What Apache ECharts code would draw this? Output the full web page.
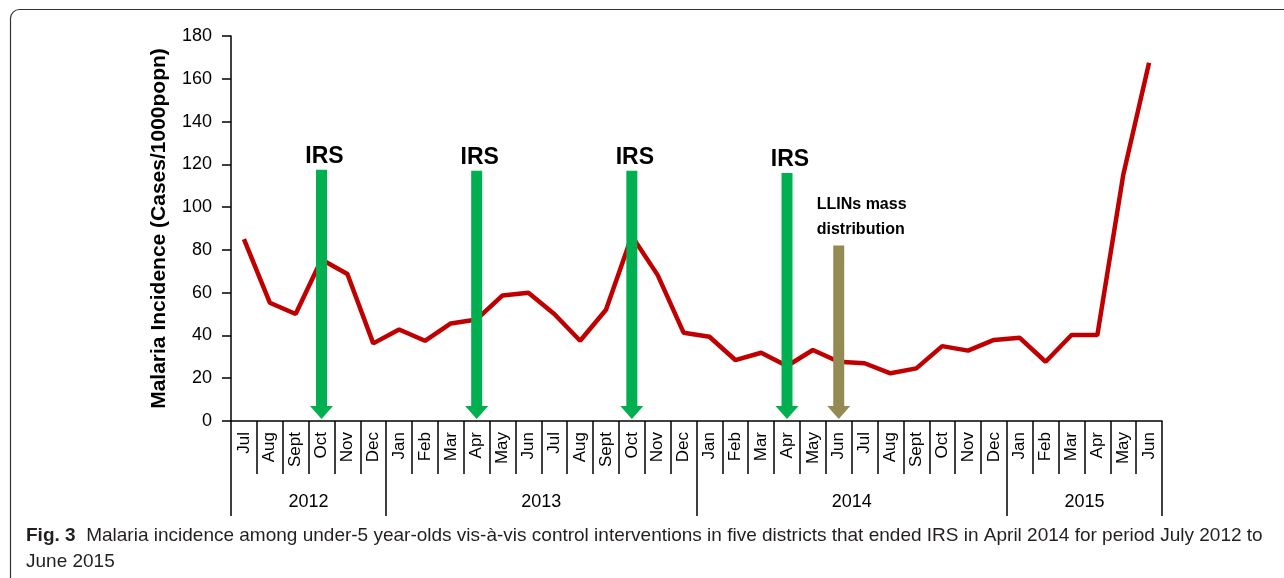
<!DOCTYPE html>
<html>
<head>
<meta charset="utf-8">
<script src="https://cdn.jsdelivr.net/npm/echarts@6/dist/echarts.min.js"></script>
<style>
html,body{margin:0;padding:0;background:#fff;}
#chart{width:1284px;height:578px;}
</style>
</head>
<body>
<div id="chart"></div>
<script>
// ---- data ----
const months = ['Jul','Aug','Sept','Oct','Nov','Dec',
  'Jan','Feb','Mar','Apr','May','Jun','Jul','Aug','Sept','Oct','Nov','Dec',
  'Jan','Feb','Mar','Apr','May','Jun','Jul','Aug','Sept','Oct','Nov','Dec',
  'Jan','Feb','Mar','Apr','May','Jun'];
const years = ['2012','2013','2014','2015'];
const monthsPerYear = [6, 12, 12, 6];
const incidence = [85, 55.3, 50, 75.5, 68.7, 36.3,
  42.8, 37.5, 45.6, 47.5, 58.7, 60, 50, 37.5, 52, 86.5, 68.2, 41.3,
  39.4, 28.5, 31.9, 25.7, 33.2, 27.7, 27, 22.3, 24.6, 35, 32.9, 37.9,
  38.9, 27.7, 40.2, 40.2, 115, 167.5];
// interventions: month index in the series, arrow top value, label
const irsMonthIndex = [3, 9, 15, 21];
const irsArrowTop = [117.5, 117, 117, 116];
const irsLabel = 'IRS';
const llinMonthIndex = [23];
const llinArrowTop = [82];
const llinLabel = 'LLINs mass\ndistribution';
const yTicks = [0, 20, 40, 60, 80, 100, 120, 140, 160, 180];
const yTitle = 'Malaria Incidence (Cases/1000popn)';
const captionBold = 'Fig. 3';
const captionText = 'Malaria incidence among under-5 year-olds vis-à-vis control interventions in five districts that ended IRS in April 2014 for period July 2012 to\nJune 2015';

// year boundaries and centres (in month units) derived from monthsPerYear
const yearBounds = [0];
monthsPerYear.forEach(n => yearBounds.push(yearBounds[yearBounds.length - 1] + n));
const yearCenters = years.map((y, i) => (yearBounds[i] + yearBounds[i + 1]) / 2);

const FONT = 'Liberation Sans, Arial, sans-serif';

function arrowItem(color, labelMode) {
  return function (params, api) {
    const x = api.value(0), top = api.value(1);
    const pTop = api.coord([x, top]);
    const pBase = api.coord([x, 0]);
    const cx = pTop[0];
    const shaftW = 11, headW = 23, headH = 13;
    const tipY = pBase[1] - 2;
    const children = [
      { type: 'rect', shape: { x: cx - shaftW / 2, y: pTop[1], width: shaftW, height: tipY - headH - pTop[1] + 1 },
        style: { fill: color } },
      { type: 'polygon', shape: { points: [[cx - headW / 2, tipY - headH], [cx + headW / 2, tipY - headH], [cx, tipY]] },
        style: { fill: color } }
    ];
    if (labelMode === 'irs') {
      children.push({ type: 'text', style: { text: irsLabel, x: cx + 3, y: pTop[1] - 2, align: 'center', verticalAlign: 'bottom',
        font: 'bold 23px ' + FONT, fill: '#000' } });
    } else {
      children.push({ type: 'text', style: { text: llinLabel, x: cx - 22, y: pTop[1] - 4, align: 'left', verticalAlign: 'bottom',
        font: 'bold 16px ' + FONT, lineHeight: 25, fill: '#000' } });
    }
    return { type: 'group', children: children };
  };
}

const chart = echarts.init(document.getElementById('chart'), null, { renderer: 'canvas' });
chart.setOption({
  backgroundColor: '#fff',
  animation: false,
  textStyle: { fontFamily: FONT },
  grid: { left: 231, right: 122, top: 36, bottom: 157, containLabel: false },
  xAxis: [
    {
      type: 'category', data: months, boundaryGap: true, position: 'bottom',
      axisLine: { show: true, onZero: false, lineStyle: { color: '#000', width: 1.5 } },
      axisTick: { show: true, interval: 0, alignWithLabel: false, length: 53, lineStyle: { color: '#000', width: 1.5 } },
      axisLabel: { interval: 0, rotate: 90, margin: 11, fontSize: 17, color: '#000', fontFamily: FONT },
      splitLine: { show: false }
    },
    {
      type: 'value', min: 0, max: yearBounds[yearBounds.length - 1], position: 'bottom',
      axisLine: { show: false },
      axisTick: { show: true, customValues: yearBounds, length: 95, lineStyle: { color: '#000', width: 1.5 } },
      axisLabel: { show: true, customValues: yearCenters, margin: 72, fontSize: 18, color: '#000', fontFamily: FONT,
        formatter: v => years[yearCenters.indexOf(v)] },
      splitLine: { show: false }
    }
  ],
  yAxis: {
    type: 'value', min: yTicks[0], max: yTicks[yTicks.length - 1], interval: yTicks[1] - yTicks[0],
    name: yTitle, nameLocation: 'middle', nameGap: 61,
    nameTextStyle: { fontSize: 21, fontWeight: 'bold', color: '#000', fontFamily: FONT },
    axisLine: { show: true, lineStyle: { color: '#000', width: 1.5 } },
    axisTick: { show: true, length: 9, lineStyle: { color: '#000', width: 1.5 } },
    axisLabel: { fontSize: 18, color: '#000', margin: 19, fontFamily: FONT },
    splitLine: { show: false }
  },
  series: [
    {
      type: 'line', data: incidence, xAxisIndex: 0, showSymbol: false, symbol: 'none',
      lineStyle: { color: '#C00000', width: 4.5 }, z: 2
    },
    {
      type: 'custom', xAxisIndex: 0, z: 3,
      data: irsMonthIndex.map((m, i) => [m, irsArrowTop[i]]),
      renderItem: arrowItem('#00B050', 'irs'), clip: false
    },
    {
      type: 'custom', xAxisIndex: 0, z: 3,
      data: llinMonthIndex.map((m, i) => [m, llinArrowTop[i]]),
      renderItem: arrowItem('#948A54', 'llin'), clip: false
    }
  ],
  graphic: [
    { type: 'rect', shape: { x: 10.5, y: 9.5, width: 1320, height: 600, r: 9 },
      style: { fill: 'none', stroke: '#333', lineWidth: 1.2 }, z: 10 },
    { type: 'text', left: 26, top: 523, z: 10,
      style: { text: '{b|' + captionBold + '}  ' + captionText, font: '19px ' + FONT, fill: '#231f20', lineHeight: 26,
        rich: { b: { fontWeight: 'bold', fontSize: 19, fontFamily: FONT, fill: '#231f20' } } } }
  ]
});
</script>
</body>
</html>
